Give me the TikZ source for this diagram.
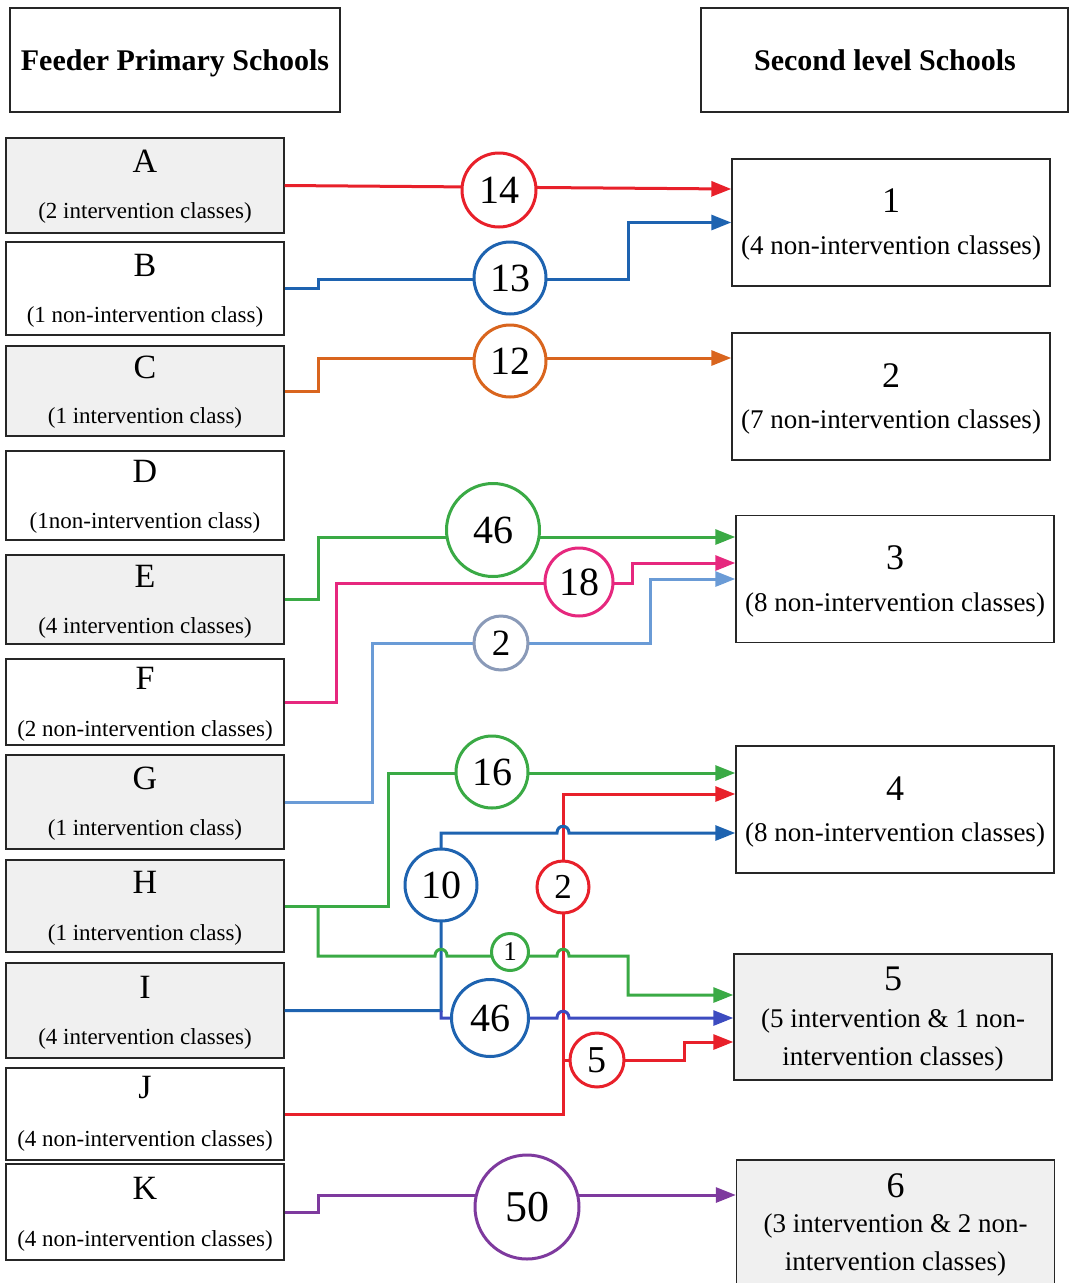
\documentclass[tikz,border=0pt]{standalone}
\usepackage{fontspec}
\setmainfont{Liberation Serif}
\usetikzlibrary{arrows.meta}

\definecolor{boxfill}{HTML}{F0F0F0}
\definecolor{cred}{HTML}{E8202A}
\definecolor{cblue}{HTML}{1E63B0}
\definecolor{corange}{HTML}{D9651E}
\definecolor{cgreen}{HTML}{3AAA45}
\definecolor{cpink}{HTML}{E6287E}
\definecolor{csky}{HTML}{6A9BD6}
\definecolor{cslate}{HTML}{8A9AB8}
\definecolor{cindigo}{HTML}{3C4BC0}
\definecolor{cpurple}{HTML}{7E3A9E}

\begin{document}
\begin{tikzpicture}[x=1pt,y=-1pt,
    schoolbox/.style={draw=black!85, line width=1.4pt, inner sep=0pt},
    feeder/.style={schoolbox, minimum width=278pt},
    second/.style={schoolbox, minimum width=318pt, minimum height=127pt},
    ivbox/.style={fill=boxfill},
    headtext/.style={anchor=base, inner sep=0pt, font=\fontsize{30}{36}\selectfont\bfseries},
    lettertext/.style={anchor=base, inner sep=0pt, font=\fontsize{34}{40}\selectfont},
    classtext/.style={anchor=base, inner sep=0pt, font=\fontsize{23}{28}\selectfont},
    numtext/.style={anchor=base, inner sep=0pt, font=\fontsize{36}{40}\selectfont},
    infotext/.style={anchor=base, inner sep=0pt, font=\fontsize{27}{32}\selectfont},
    link/.style={line width=3pt, -{Triangle[length=20pt,width=15pt]}},
    tally/.style={circle, line width=3pt, fill=white, inner sep=0pt, font=\fontsize{40}{40}\selectfont},
  ]
    \useasboundingbox (0,0) rectangle (1069,1283);

    % headers
    \node[schoolbox, minimum width=330pt, minimum height=104pt] (hfeed) at (175,60) {};
    \node[headtext] (hfeed-t) at (175,70) {Feeder Primary Schools};
    \node[schoolbox, minimum width=367pt, minimum height=104pt] (hsecond) at (884.5,60) {};
    \node[headtext] (hsecond-t) at (885,70) {Second level Schools};

    % feeder primary schools
    \node[feeder, ivbox, minimum height=95pt] (A) at (145,185.5) {};
    \node[lettertext] (A-l) at (145,172) {A};
    \node[classtext] (A-s) at (145,218) {(2 intervention classes)};

    \node[feeder, minimum height=93pt] (B) at (145,288.5) {};
    \node[lettertext] (B-l) at (145,276) {B};
    \node[classtext] (B-s) at (145,322) {(1 non-intervention class)};

    \node[feeder, ivbox, minimum height=90pt] (C) at (145,391) {};
    \node[lettertext] (C-l) at (145,378) {C};
    \node[classtext] (C-s) at (145,423) {(1 intervention class)};

    \node[feeder, minimum height=89pt] (D) at (145,495.5) {};
    \node[lettertext] (D-l) at (145,482) {D};
    \node[classtext] (D-s) at (145,528) {(1non-intervention class)};

    \node[feeder, ivbox, minimum height=89pt] (E) at (145,599.5) {};
    \node[lettertext] (E-l) at (145,587) {E};
    \node[classtext] (E-s) at (145,633) {(4 intervention classes)};

    \node[feeder, minimum height=86pt] (F) at (145,702) {};
    \node[lettertext] (F-l) at (145,689) {F};
    \node[classtext] (F-s) at (145,736) {(2 non-intervention classes)};

    \node[feeder, ivbox, minimum height=94pt] (G) at (145,802) {};
    \node[lettertext] (G-l) at (145,789) {G};
    \node[classtext] (G-s) at (145,835) {(1 intervention class)};

    \node[feeder, ivbox, minimum height=92pt] (H) at (145,906) {};
    \node[lettertext] (H-l) at (145,893) {H};
    \node[classtext] (H-s) at (145,940) {(1 intervention class)};

    \node[feeder, ivbox, minimum height=95pt] (I) at (145,1010.5) {};
    \node[lettertext] (I-l) at (145,998) {I};
    \node[classtext] (I-s) at (145,1044) {(4 intervention classes)};

    \node[feeder, minimum height=92pt] (J) at (145,1114) {};
    \node[lettertext] (J-l) at (145,1098) {J};
    \node[classtext] (J-s) at (145,1146) {(4 non-intervention classes)};

    \node[feeder, minimum height=96pt] (K) at (145,1212) {};
    \node[lettertext] (K-l) at (145,1199) {K};
    \node[classtext] (K-s) at (145,1246) {(4 non-intervention classes)};

    % second level schools
    \node[second] (S1) at (891,222.5) {};
    \node[numtext] (S1-n) at (891,212) {1};
    \node[infotext] (S1-s) at (891,254) {(4 non-intervention classes)};

    \node[second] (S2) at (891,396.5) {};
    \node[numtext] (S2-n) at (891,387) {2};
    \node[infotext] (S2-s) at (891,428) {(7 non-intervention classes)};

    \node[second] (S3) at (895,579) {};
    \node[numtext] (S3-n) at (895,569) {3};
    \node[infotext] (S3-s) at (895,611) {(8 non-intervention classes)};

    \node[second] (S4) at (895,809.5) {};
    \node[numtext] (S4-n) at (895,800) {4};
    \node[infotext] (S4-s) at (895,841) {(8 non-intervention classes)};

    \node[second, ivbox, minimum height=126pt] (S5) at (893,1017) {};
    \node[numtext] (S5-n) at (893,990) {5};
    \node[infotext] (S5-s) at (893,1027) {(5 intervention \& 1 non-};
    \node[infotext] (S5-t) at (893,1065) {intervention classes)};

    \node[second, ivbox, minimum height=134pt] (S6) at (895.5,1227) {};
    \node[numtext] (S6-n) at (895.5,1197) {6};
    \node[infotext] (S6-s) at (895.5,1232) {(3 intervention \& 2 non-};
    \node[infotext] (S6-t) at (895.5,1270) {intervention classes)};

    % split points
    \coordinate (Hsplit) at (318,906);
    \coordinate (Isplit) at (441,1010.5);
    \coordinate (Jsplit) at (563,1060);

    % flows
    \draw[link, cred] (A.east) -- ([yshift=33.5]S1.west);
    \draw[link, cblue] (B.east) -- (318,288.5) |- (628,279) |- (S1.west);
    \draw[link, corange] (C.east) -- (318,391) |- ([yshift=38.5]S2.west);
    \draw[link, cgreen] (E.east) -- (318,599.5) |- ([yshift=42]S3.west);
    \draw[link, cpink] (F.east) -- (336,702) |- (632,583) |- ([yshift=16]S3.west);
    \draw[link, csky] (G.east) -- (372,802) |- (650,643) |- (S3.west);
    \draw[link, cred] (J.east) -| (563,794) -- ([yshift=15.5]S4.west);
    \draw[link, cred] (Jsplit) -- (684,1060) |- ([yshift=-25]S5.west);
    \draw[link, cblue] (I.east) -| (441,833) -- (557,833)
      .. controls (557,824) and (569,824) .. (569,833) -- ([yshift=-23.5]S4.west);
    \draw[link, cindigo] (Isplit) -- (441,1018) -- (557,1018)
      .. controls (557,1009) and (569,1009) .. (569,1018) -- ([yshift=-1]S5.west);
    \draw[link, cgreen] (H.east) -| (388,773) -- ([yshift=36.5]S4.west);
    \draw[link, cgreen] (Hsplit) -- (318,956) -- (435,956)
      .. controls (435,947) and (447,947) .. (447,956) -- (557,956)
      .. controls (557,947) and (569,947) .. (569,956) -- (628,956) |- ([yshift=22]S5.west);
    \draw[link, cpurple] (K.east) -- (318,1212) |- ([yshift=32]S6.west);

    % pupil counts
    \node[tally, draw=cred, minimum size=74pt] (n14) at (499,190) {14};
    \node[tally, draw=cblue, minimum size=72pt] (n13) at (510,278) {13};
    \node[tally, draw=corange, minimum size=72pt] (n12) at (510,361) {12};
    \node[tally, draw=cgreen, minimum size=93pt] (n46g) at (493,530) {46};
    \node[tally, draw=cpink, minimum size=68pt] (n18) at (579,582) {18};
    \node[tally, draw=cslate, minimum size=54pt, font=\fontsize{37}{37}\selectfont] (n2s) at (501,643) {2};
    \node[tally, draw=cgreen, minimum size=72pt] (n16) at (492,772) {16};
    \node[tally, draw=cblue, minimum size=72pt] (n10) at (441,885) {10};
    \node[tally, draw=cred, minimum size=52pt, font=\fontsize{35}{35}\selectfont] (n2r) at (563,887) {2};
    \node[tally, draw=cgreen, minimum size=37pt, font=\fontsize{27}{27}\selectfont] (n1) at (510,952) {1};
    \node[tally, draw=cblue, minimum size=77pt] (n46b) at (490,1018) {46};
    \node[tally, draw=cred, minimum size=54pt, font=\fontsize{38}{38}\selectfont] (n5) at (597,1060) {5};
    \node[tally, draw=cpurple, minimum size=104pt, font=\fontsize{44}{44}\selectfont] (n50) at (527,1207) {50};
\end{tikzpicture}
\end{document}
